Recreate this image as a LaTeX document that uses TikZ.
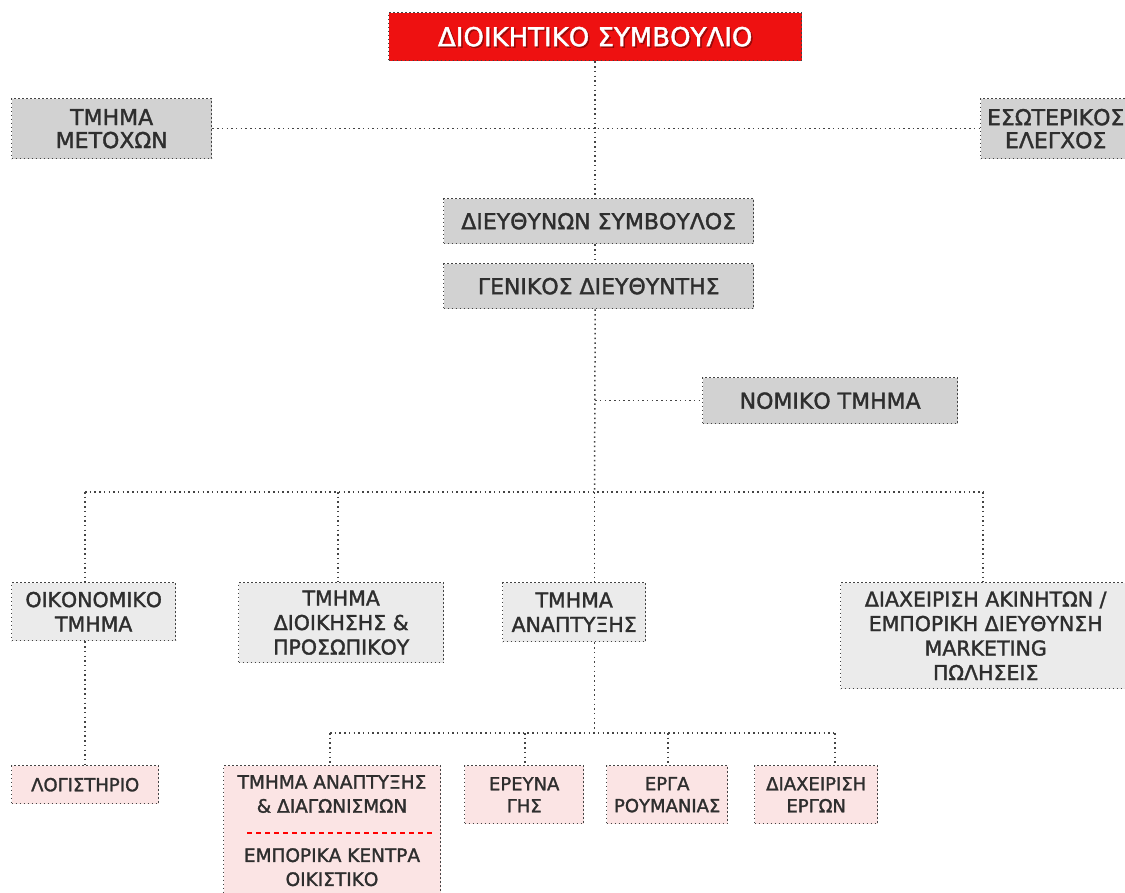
\documentclass[tikz,border=0pt]{standalone}
\usepackage{fontspec}
\setmainfont{DejaVu Sans}[FakeBold=1.6]
\definecolor{linecol}{HTML}{444444}
\definecolor{txtcol}{HTML}{2E2E2E}
\definecolor{grayA}{HTML}{D2D2D2}
\definecolor{grayB}{HTML}{EBEBEB}
\definecolor{pinkA}{HTML}{FBE4E4}
\definecolor{topred}{HTML}{EE1111}
\tikzset{
  conn/.style={draw=linecol, line width=1.5pt, dash pattern=on 1.5pt off 3.2pt},
  boxbase/.style={draw=linecol, line width=1.4pt, dash pattern=on 1.4pt off 2.6pt, align=center, inner sep=0pt, text=txtcol, anchor=north west},
  lvlA/.style={boxbase, fill=grayA, font=\fontsize{22}{23}\selectfont},
  lvlB/.style={boxbase, fill=grayB, font=\fontsize{20.5}{24.5}\selectfont},
  lvlC/.style={boxbase, fill=pinkA, font=\fontsize{18}{22}\selectfont},
  lvlCtext/.style={align=center, inner sep=0pt, text=txtcol, anchor=north, font=\fontsize{18.5}{24}\selectfont},
  topbox/.style={boxbase, fill=topred, text=white, font=\fontsize{26}{28}\selectfont},
}
\begin{document}
\begin{tikzpicture}[x=1pt,y=-1pt]
\useasboundingbox (0,0) rectangle (1125,892);
% top
\node[topbox, minimum width=413pt, minimum height=48pt] (board) at (388,12) {};
\node[text=black!55!topred, opacity=0.6, font=\fontsize{26}{28}\selectfont] (boardsh) at ([xshift=1.5pt,yshift=-1.5pt]board.center) {ΔΙΟΙΚΗΤΙΚΟ ΣΥΜΒΟΥΛΙΟ};
\node[text=white, font=\fontsize{26}{28}\selectfont] (boardtxt) at (board.center) {ΔΙΟΙΚΗΤΙΚΟ ΣΥΜΒΟΥΛΙΟ};
\node[lvlA, minimum width=200pt, minimum height=60pt] (shares) at (11,98) {ΤΜΗΜΑ\\ΜΕΤΟΧΩΝ};
\node[lvlA, minimum width=150pt, minimum height=60pt] (audit) at (980,98) {ΕΣΩΤΕΡΙΚΟΣ\\ΕΛΕΓΧΟΣ};
\node[lvlA, minimum width=310pt, minimum height=45pt] (ceo) at (443,198) {ΔΙΕΥΘΥΝΩΝ ΣΥΜΒΟΥΛΟΣ};
\node[lvlA, minimum width=310pt, minimum height=45pt] (gm) at (443,263) {ΓΕΝΙΚΟΣ ΔΙΕΥΘΥΝΤΗΣ};
\node[lvlA, minimum width=255pt, minimum height=46pt] (legal) at (702,377) {ΝΟΜΙΚΟ ΤΜΗΜΑ};
% level B
\node[lvlB, minimum width=164pt, minimum height=58pt] (fin) at (11,582) {ΟΙΚΟΝΟΜΙΚΟ\\ΤΜΗΜΑ};
\node[lvlB, minimum width=205pt, minimum height=80pt] (adm) at (238,582) {ΤΜΗΜΑ\\ΔΙΟΙΚΗΣΗΣ \&\\ΠΡΟΣΩΠΙΚΟΥ};
\node[lvlB, minimum width=143pt, minimum height=59pt] (dev) at (502,582) {ΤΜΗΜΑ\\ΑΝΑΠΤΥΞΗΣ};
\node[lvlB, minimum width=290pt, minimum height=106pt] (estate) at (840,582) {ΔΙΑΧΕΙΡΙΣΗ ΑΚΙΝΗΤΩΝ /\\ΕΜΠΟΡΙΚΗ ΔΙΕΥΘΥΝΣΗ\\MARKETING\\ΠΩΛΗΣΕΙΣ};
% level C
\node[lvlC, minimum width=147pt, minimum height=38pt] (acc) at (11,765) {ΛΟΓΙΣΤΗΡΙΟ};
\node[lvlC, minimum width=217pt, minimum height=140pt] (tenders) at (223,765) {};
\node[lvlCtext] (tendA) at (332,775) {ΤΜΗΜΑ ΑΝΑΠΤΥΞΗΣ\\\& ΔΙΑΓΩΝΙΣΜΩΝ};
\node[lvlCtext] (tendB) at (332,848) {ΕΜΠΟΡΙΚΑ ΚΕΝΤΡΑ\\ΟΙΚΙΣΤΙΚΟ};
\draw[red, line width=1.6pt, dash pattern=on 5pt off 4pt] (247,833) coordinate (sepL) -- (433,833) coordinate (sepR);
\node[lvlC, minimum width=119pt, minimum height=58pt] (research) at (464,765) {ΕΡΕΥΝΑ\\ΓΗΣ};
\node[lvlC, minimum width=121pt, minimum height=58pt] (romania) at (606,765) {ΕΡΓΑ\\ΡΟΥΜΑΝΙΑΣ};
\node[lvlC, minimum width=123pt, minimum height=58pt] (pm) at (754,765) {ΔΙΑΧΕΙΡΙΣΗ\\ΕΡΓΩΝ};
% connectors
\draw[conn] (board.south) -- (board.south |- ceo.north);
\draw[conn] (shares.east) -- (audit.west);
\draw[conn] (board.south |- ceo.south) -- (board.south |- gm.north);
\coordinate (bus) at (594.5,492);
\draw[conn] (board.south |- gm.south) -- (bus);
\draw[conn] (board.south |- legal.west) coordinate (lj) -- (legal.west);
\draw[conn] (85,492) coordinate (b1) -- (983,492) coordinate (b4);
\draw[conn] (b1) -- (b1 |- fin.north);
\draw[conn] (338,492) coordinate (b2) -- (b2 |- adm.north);
\draw[conn] (bus) -- (bus |- dev.north);
\draw[conn] (b4) -- (b4 |- estate.north);
\draw[conn] (b1 |- fin.south) -- (b1 |- acc.north);
\coordinate (bus2) at (594.5,733);
\draw[conn] (bus |- dev.south) -- (bus2);
\draw[conn] (330,733) coordinate (c1) -- (835,733) coordinate (c4);
\draw[conn] (c1) -- (c1 |- tenders.north);
\draw[conn] (525,733) coordinate (c2) -- (c2 |- research.north);
\draw[conn] (668,733) coordinate (c3) -- (c3 |- romania.north);
\draw[conn] (c4) -- (c4 |- pm.north);
\end{tikzpicture}
\end{document}
